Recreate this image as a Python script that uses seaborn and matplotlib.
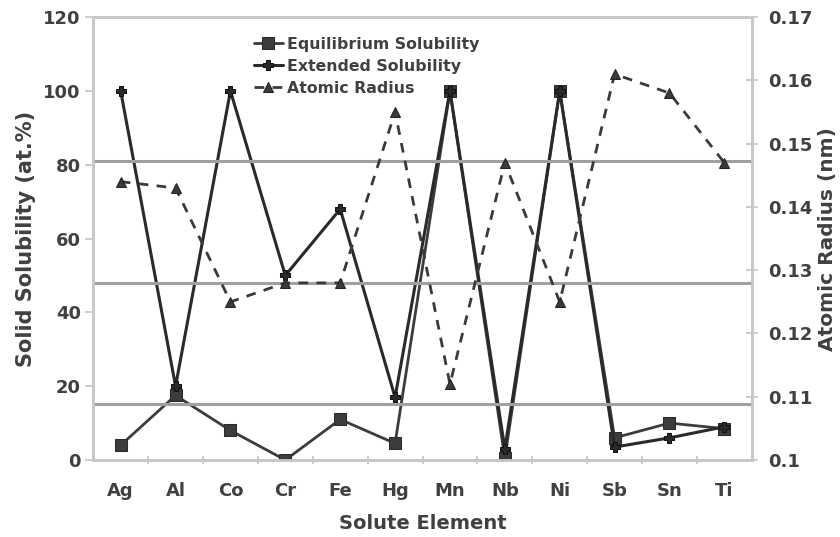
import numpy as np
import pandas as pd
import matplotlib
matplotlib.use("Agg")
import matplotlib.pyplot as plt
import seaborn as sns

elements = ["Ag", "Al", "Co", "Cr", "Fe", "Hg", "Mn", "Nb", "Ni", "Sb", "Sn", "Ti"]
equilibrium_solubility = [4, 17.5, 8, 0, 11, 4.5, 100, 0.5, 100, 6, 10, 8.5]
extended_solubility = [100, 20, 100, 50, 68, 17, 100, 3, 100, 3.5, 6, 9]
atomic_radius = [0.144, 0.143, 0.125, 0.128, 0.128, 0.155, 0.112, 0.147, 0.125, 0.161, 0.158, 0.147]
# Cu atomic radius and the +/-15 % size-factor limits
size_limits = [0.1472, 0.128, 0.1088]

left_ticks = [0, 20, 40, 60, 80, 100, 120]
right_ticks = [0.1, 0.11, 0.12, 0.13, 0.14, 0.15, 0.16, 0.17]
right_tick_labels = ["0.1", "0.11", "0.12", "0.13", "0.14", "0.15", "0.16", "0.17"]

sns.set_theme(style="white")
plt.rcParams["font.family"] = ["DejaVu Sans"]
plt.rcParams["font.weight"] = "bold"

text_color = "#404040"
spine_color = "#c8c8c8"
line_color = "#2a2a2a"

df = pd.DataFrame({
    "pos": np.arange(len(elements)),
    "element": elements,
    "eq": equilibrium_solubility,
    "ext": extended_solubility,
    "radius": atomic_radius,
})

fig = plt.figure(figsize=(8.4, 5.37), dpi=100)
ax = fig.add_axes([0.111, 0.1434, 0.784, 0.8246])
ax2 = ax.twinx()

# size-factor reference lines on the radius scale
for lim in size_limits:
    ax2.axhline(lim, color="#a0a0a0", lw=2.2, zorder=1)

sns.lineplot(data=df, x="pos", y="eq", ax=ax, color="#3c3c3c", lw=2.0,
             marker="s", markersize=8.5, markeredgecolor="#2a2a2a",
             label="Equilibrium Solubility", legend=False, zorder=3)
sns.lineplot(data=df, x="pos", y="ext", ax=ax, color=line_color, lw=2.2,
             marker="P", markersize=7, markeredgecolor="#111111",
             label="Extended Solubility", legend=False, zorder=3)
sns.lineplot(data=df, x="pos", y="radius", ax=ax2, color="#3a3a3a", lw=2.0,
             linestyle=(0, (3.5, 3)), marker="^", markersize=6.5,
             markeredgecolor="#222222", label="Atomic Radius", legend=False, zorder=3)

ax.set_xlim(-0.5, len(elements) - 0.5)
ax.set_ylim(0, 120)
ax2.set_ylim(0.1, 0.17)

ax.set_xticks(np.arange(len(elements)))
ax.set_xticklabels(elements)
ax.set_xticks(np.arange(len(elements) - 1) + 0.5, minor=True)
ax.tick_params(axis="x", which="major", length=0, pad=16, labelsize=13, labelcolor=text_color)
ax.tick_params(axis="x", which="minor", length=6, direction="inout", width=1.3, color=spine_color, bottom=True)

ax.set_yticks(left_ticks)
ax.tick_params(axis="y", length=6, width=1.3, color=spine_color, direction="out",
               labelsize=13, labelcolor=text_color, left=True, pad=3)
ax2.set_yticks(right_ticks)
ax2.set_yticklabels(right_tick_labels)
ax2.tick_params(axis="y", length=8, width=1.3, color=spine_color, direction="inout",
                labelsize=13, labelcolor=text_color, right=True, pad=8)

for a in (ax, ax2):
    for s in a.spines.values():
        s.set_color(spine_color)
        s.set_linewidth(2.0)
    a.grid(False)

ax.set_xlabel("Solute Element", fontsize=14, fontweight="bold", color=text_color, labelpad=10)
ax.set_ylabel("Solid Solubility (at.%)", fontsize=15, fontweight="bold", color=text_color, labelpad=5)
ax2.set_ylabel("Atomic Radius (nm)", fontsize=14.5, fontweight="bold", color=text_color, labelpad=4)

h1, l1 = ax.get_legend_handles_labels()
h2, l2 = ax2.get_legend_handles_labels()
leg = ax2.legend(h1 + h2, l1 + l2, loc="upper left", bbox_to_anchor=(0.235, 0.97),
                 frameon=False, fontsize=11.3, handlelength=1.8, handletextpad=0.3,
                 labelspacing=0.45, borderaxespad=0)
for t in leg.get_texts():
    t.set_color(text_color)
    t.set_fontweight("bold")

fig.savefig("out.png", dpi=100)
